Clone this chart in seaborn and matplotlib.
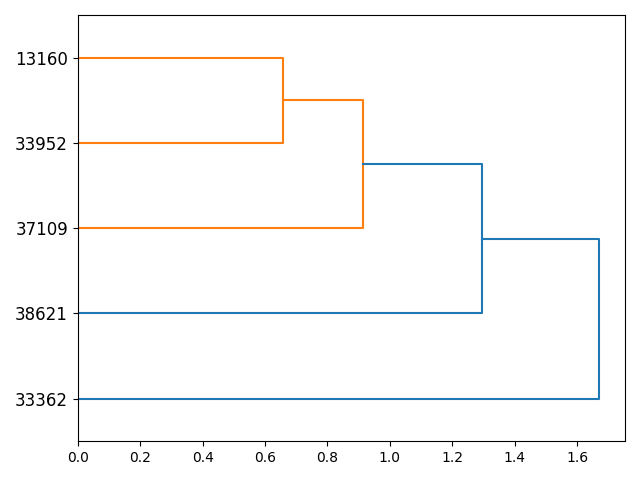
import matplotlib
matplotlib.use("Agg")
import matplotlib.pyplot as plt
import seaborn as sns
import pandas as pd

# Leaves, bottom to top
leaf_labels = ["33362", "38621", "37109", "33952", "13160"]
# merges: (left node, right node, distance); nodes 0-4 are leaves, 5+ are clusters
merge_left = [4, 5, 6, 7]
merge_right = [3, 2, 1, 0]
merge_dist = [0.657, 0.913, 1.295, 1.670]
merge_color = ["#ff7f0e", "#ff7f0e", "#1f77b4", "#1f77b4"]

fig, ax = plt.subplots(figsize=(6.4, 4.8), dpi=100)

pos = {i: 5 + 10 * i for i in range(len(leaf_labels))}
height = {i: 0.0 for i in range(len(leaf_labels))}
for k, (a, b, d, c) in enumerate(zip(merge_left, merge_right, merge_dist, merge_color)):
    ya, yb = pos[a], pos[b]
    df = pd.DataFrame({"x": [height[a], d, d, height[b]], "y": [ya, ya, yb, yb]})
    sns.lineplot(data=df, x="x", y="y", sort=False, estimator=None, color=c, ax=ax, lw=1.5)
    node = len(leaf_labels) + k
    pos[node] = (ya + yb) / 2
    height[node] = d

ax.set_ylim(0, 10 * len(leaf_labels))
ax.set_xlim(0, max(merge_dist) * 1.05)
ax.set_yticks([5 + 10 * i for i in range(len(leaf_labels))])
ax.set_yticklabels(leaf_labels, fontsize=12)
ax.set_xlabel("")
ax.set_ylabel("")
fig.tight_layout()
fig.savefig("out.png", dpi=100)
